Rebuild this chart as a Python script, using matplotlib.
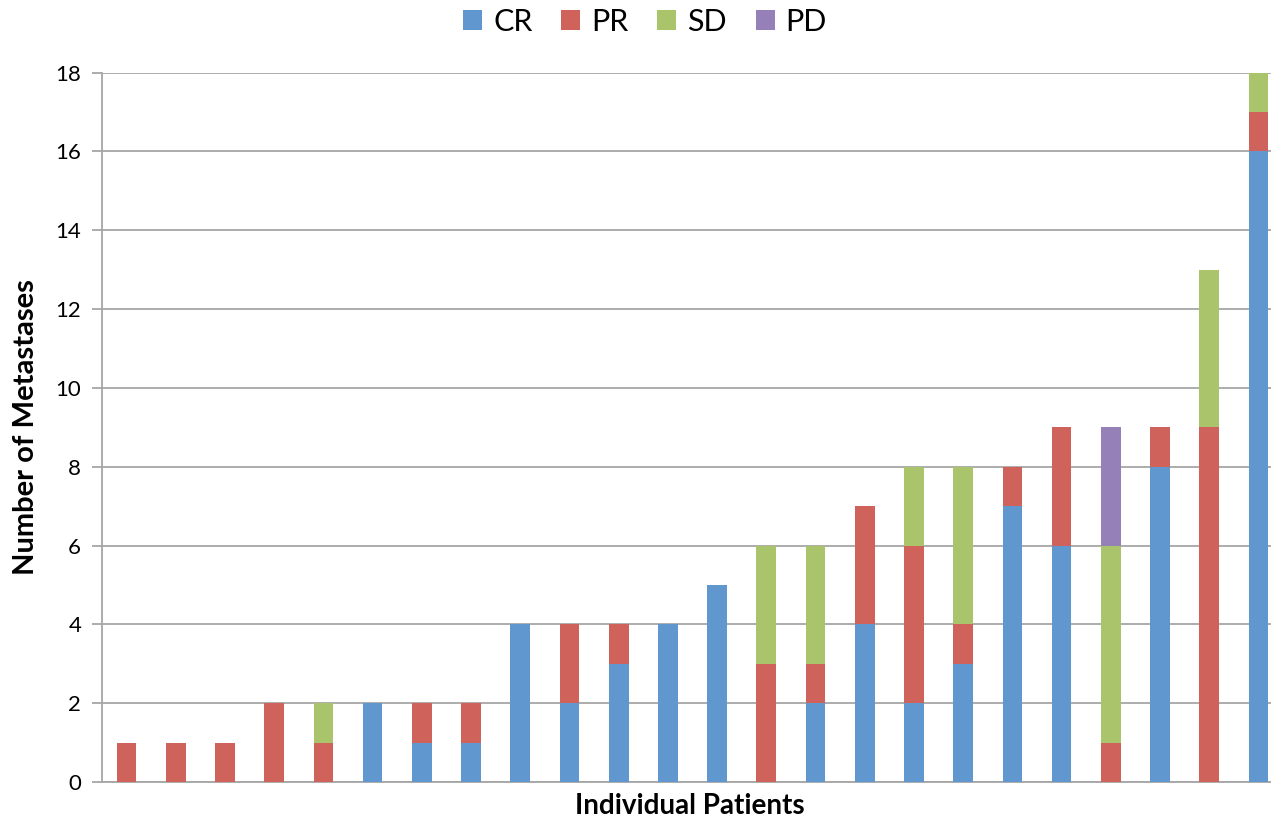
import matplotlib
matplotlib.use("Agg")
import matplotlib.pyplot as plt
import numpy as np

plt.rcParams['font.family'] = ['Lato', 'DejaVu Sans']

patients = list(range(1, 25))
CR = [0, 0, 0, 0, 0, 2, 1, 1, 4, 2, 3, 4, 5, 0, 2, 4, 2, 3, 7, 6, 0, 8, 0, 16]
PR = [1, 1, 1, 2, 1, 0, 1, 1, 0, 2, 1, 0, 0, 3, 1, 3, 4, 1, 1, 3, 1, 1, 9, 1]
SD = [0, 0, 0, 0, 1, 0, 0, 0, 0, 0, 0, 0, 0, 3, 3, 0, 2, 4, 0, 0, 5, 0, 4, 1]
PD = [0, 0, 0, 0, 0, 0, 0, 0, 0, 0, 0, 0, 0, 0, 0, 0, 0, 0, 0, 0, 3, 0, 0, 0]
series = {"CR": CR, "PR": PR, "SD": SD, "PD": PD}
colors = {"CR": "#6097CE", "PR": "#D0625C", "SD": "#A9C46B", "PD": "#9580B8"}
yticks = [0, 2, 4, 6, 8, 10, 12, 14, 16, 18]

W, H = 1271, 821
fig = plt.figure(figsize=(W / 100, H / 100), dpi=100)
left, right = 102, 1283
bottom, top = 782, 72.5
ax = fig.add_axes([left / W, 1 - bottom / H, (right - left) / W, (bottom - top) / H])

x = np.arange(len(patients))
base = np.zeros(len(patients))
for name, vals in series.items():
    v = np.array(vals, dtype=float)
    ax.bar(x, v, width=0.4, bottom=base, color=colors[name], label=name, zorder=3, linewidth=0)
    base += v

ax.set_xlim(-0.5, len(patients) - 0.5)
ax.set_ylim(0, 18)
ax.set_yticks(yticks)
ax.set_xticks([])
ax.yaxis.grid(True, color="#A6A6A6", linewidth=1.3, zorder=0)
ax.set_axisbelow(True)
for s in ["top", "right"]:
    ax.spines[s].set_visible(False)
ax.spines["left"].set_color("#A6A6A6")
ax.spines["left"].set_linewidth(1.3)
ax.spines["bottom"].set_color("#A6A6A6")
ax.spines["bottom"].set_linewidth(1.3)
ax.tick_params(axis="y", length=7, width=1.3, color="#A6A6A6", labelsize=16, pad=8)
ax.set_ylabel("Number of Metastases", fontsize=21, fontweight="bold", labelpad=12)

fig.text(690 / W, 1 - 806 / H, "Individual Patients", fontsize=20, fontweight="bold",
         ha="center", va="center")

fig.legend(loc="center", bbox_to_anchor=(645 / W, 1 - 22 / H), ncol=4, frameon=False,
           fontsize=22, handlelength=0.62, handleheight=0.62, handletextpad=0.35,
           columnspacing=0.95, borderpad=0.2)

fig.savefig("out.png", dpi=100)
